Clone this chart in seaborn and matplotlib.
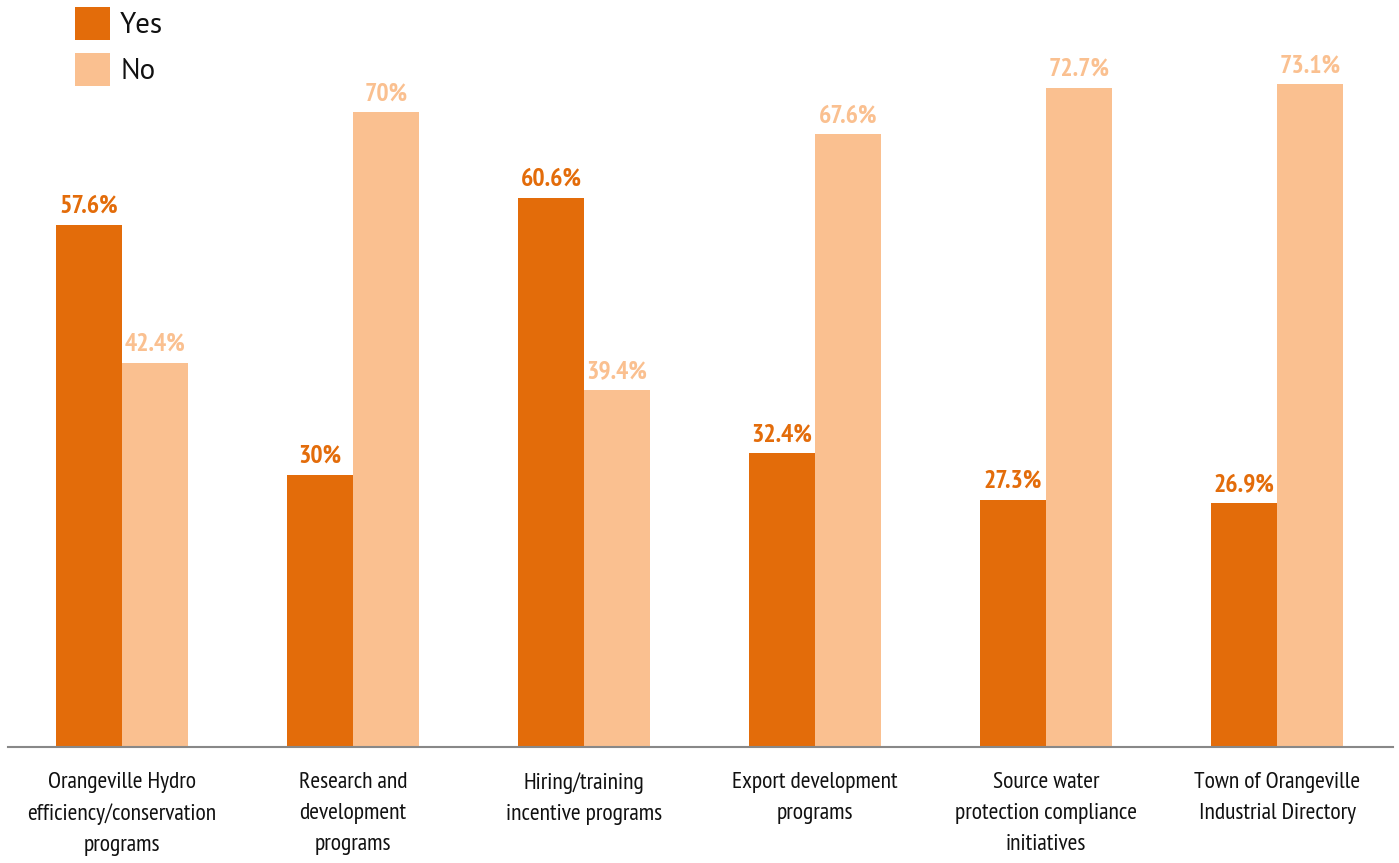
import matplotlib
matplotlib.use("Agg")
import matplotlib.pyplot as plt
import seaborn as sns
import pandas as pd
from matplotlib.patches import Patch

categories = [
    "Orangeville Hydro\nefficiency/conservation\nprograms",
    "Research and\ndevelopment\nprograms",
    "Hiring/training\nincentive programs",
    "Export development\nprograms",
    "Source water\nprotection compliance\ninitiatives",
    "Town of Orangeville\nIndustrial Directory",
]
yes_values = [57.6, 30, 60.6, 32.4, 27.3, 26.9]
no_values = [42.4, 70, 39.4, 67.6, 72.7, 73.1]
yes_labels = ["57.6%", "30%", "60.6%", "32.4%", "27.3%", "26.9%"]
no_labels = ["42.4%", "70%", "39.4%", "67.6%", "72.7%", "73.1%"]
series = ["Yes", "No"]

YES_C = "#E36C0A"
NO_C = "#FAC090"

sns.set_theme(style="white")
NARROW = ["PT Sans Narrow", "DejaVu Sans"]
plt.rcParams["font.family"] = NARROW

df = pd.DataFrame({
    "cat": categories * 2,
    "val": yes_values + no_values,
    "series": ["Yes"] * len(categories) + ["No"] * len(categories),
})

fig = plt.figure(figsize=(13.99, 8.63), dpi=100)
ax = fig.add_axes([8 / 1399, 1 - 747 / 863, (1393 - 8) / 1399, 747 / 863])
sns.barplot(data=df, x="cat", y="val", hue="series", hue_order=series,
            palette=[YES_C, NO_C], width=0.572, saturation=1, ax=ax,
            legend=False, errorbar=None, linewidth=0)

for cont, labs, col in zip(ax.containers, [yes_labels, no_labels], [YES_C, NO_C]):
    ax.bar_label(cont, labels=labs, padding=5, color=col, fontsize=18.5,
                 fontweight="bold", family=NARROW)

ax.set_ylim(0, 82.4)
ax.set_xlim(-0.494, 5.502)
ax.set_xlabel("")
ax.set_ylabel("")
ax.set_yticks([])
ax.tick_params(axis="x", length=0, pad=18, labelsize=17, colors="#111111")
for lbl in ax.get_xticklabels():
    lbl.set_linespacing(1.62)
    lbl.set_family(NARROW)
for s in ["top", "right", "left"]:
    ax.spines[s].set_visible(False)
ax.spines["bottom"].set_color("#888888")
ax.spines["bottom"].set_linewidth(1.5)

handles = [Patch(facecolor=YES_C, label="Yes", linewidth=0),
           Patch(facecolor=NO_C, label="No", linewidth=0)]
leg = fig.legend(handles=handles, loc="upper left", bbox_to_anchor=(72 / 1399, 1 - 4 / 863),
                 frameon=False, handlelength=1.2, handleheight=1.35,
                 handletextpad=0.35, labelspacing=0.45, borderaxespad=0.0,
                 borderpad=0.1,
                 prop={"family": ["PT Sans", "DejaVu Sans"], "size": 21})
for t in leg.get_texts():
    t.set_color("#111111")

fig.savefig("out.png", dpi=100)
